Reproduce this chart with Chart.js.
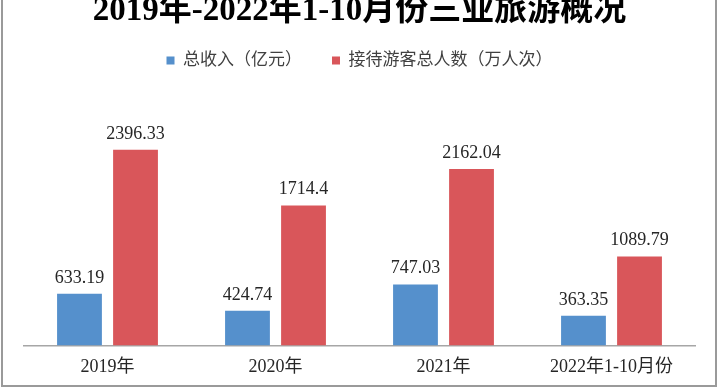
<!DOCTYPE html>
<html>
<head>
<meta charset="utf-8">
<script src="https://cdn.jsdelivr.net/npm/chart.js@4"></script>
<style>
  html, body { margin: 0; padding: 0; background: #fff; }
  #wrap { position: relative; width: 720px; height: 391px; }
</style>
</head>
<body>
<div id="wrap"><canvas id="myChart" width="720" height="391"></canvas></div>
<script>
const years = ["2019年", "2020年", "2021年", "2022年1-10月份"];
const revenue = [633.19, 424.74, 747.03, 363.35];
const visitors = [2396.33, 1714.4, 2162.04, 1089.79];
const seriesNames = ["总收入（亿元）", "接待游客总人数（万人次）"];

const serif = "'Liberation Serif', 'DejaVu Serif', 'Noto Sans CJK SC', serif";

// value labels above each bar
const valueLabels = {
  id: "valueLabels",
  afterDatasetsDraw(chart) {
    const ctx = chart.ctx;
    ctx.save();
    ctx.font = "18px " + serif;
    ctx.fillStyle = "#262626";
    ctx.textAlign = "center";
    ctx.textBaseline = "alphabetic";
    chart.data.datasets.forEach((ds, i) => {
      chart.getDatasetMeta(i).data.forEach((bar, j) => {
        ctx.fillText(String(ds.data[j]), bar.x, bar.y - 11);
      });
    });
    ctx.restore();
  },
};

// grey frame round the picture
const frame = {
  id: "frame",
  afterDraw(chart) {
    const ctx = chart.ctx;
    ctx.save();
    ctx.strokeStyle = "#9a9a9a";
    ctx.lineWidth = 2;
    ctx.strokeRect(2, -10, 714, 396);
    ctx.restore();
  },
};

const data = {
  labels: years,
  datasets: [
    { label: seriesNames[0], data: revenue, backgroundColor: "#5590cc" },
    { label: seriesNames[1], data: visitors, backgroundColor: "#d9565a" },
  ],
};

const config = {
  type: "bar",
  data: data,
  options: {
    responsive: false,
    animation: false,
    layout: { padding: { left: 23.5, right: 24.5, top: 0, bottom: 2 } },
    datasets: { bar: { categoryPercentage: 0.667, barPercentage: 0.8 } },
    scales: {
      x: {
        grid: { display: false, drawTicks: false },
        border: { display: true, color: "#a6a6a6", width: 1.5 },
        ticks: { color: "#262626", padding: 11, font: { family: serif, size: 18 } },
      },
      y: { display: false, min: 0, max: 3264 },
    },
    plugins: {
      title: {
        display: true,
        text: "2019年-2022年1-10月份三业旅游概况",
        color: "#000",
        font: { family: serif, size: 33, weight: "bold" },
        padding: { top: -8, bottom: -9.6 },
      },
      legend: {
        position: "top",
        labels: {
          boxWidth: 8,
          boxHeight: 8,
          padding: 30,
          color: "#404040",
          font: { family: serif, size: 17 },
        },
      },
      tooltip: { enabled: false },
    },
  },
  plugins: [valueLabels, frame],
};

const myChart = new Chart(document.getElementById("myChart"), config);
</script>
</body>
</html>
